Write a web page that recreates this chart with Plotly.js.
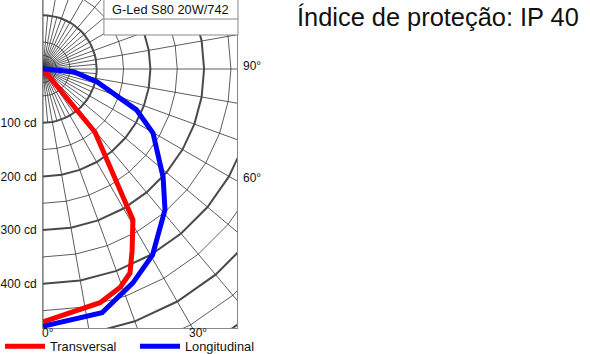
<!DOCTYPE html>
<html><head><meta charset="utf-8">
<script src="https://cdn.plot.ly/plotly-3.0.1.min.js"></script>
<style>html,body{margin:0;padding:0;background:#fff}</style>
</head><body><div id="chart" style="width:590px;height:354px"></div>
<script>
// Luminous intensity curves (angle from nadir in degrees, intensity in cd)
const transversalAngles = [0, 13.7, 19.5, 23.1, 26.2, 30.8, 39.5, 90];
const transversalCd     = [471, 448, 431, 413, 376, 327, 152, 0];
const longitudinalAngles = [0, 13.6, 22.8, 30.5, 40.9, 48, 59.8, 66.4, 76.7, 84.9, 90];
const longitudinalCd     = [479, 467, 432, 402, 347, 301, 237, 190, 103, 57, 0];
// Grid and labels
const ringValues = [25, 50, 100, 150, 200, 250, 300, 350, 400, 450, 500, 550, 600, 650];
const ringLabels = [100, 200, 300, 400];
const angleLabels = [0, 30, 60, 90];
const productName = 'G-Led S80 20W/742';
const protectionText = 'Índice de proteção: IP 40';
const seriesNames = ['Transversal', 'Longitudinal'];

const FONT = 'Liberation Sans, Arial, sans-serif';
const X_MAX = 361.3, Y_MIN = -482.3, Y_MAX = 128.5;
const rad = d => d * Math.PI / 180;
const px = (r, a) => r * Math.sin(rad(a));
const py = (r, a) => -r * Math.cos(rad(a));

function ring(r) {
  const step = r <= 100 ? 5 : 10;
  const xs = [], ys = [];
  for (let a = 0; a <= 180; a += step) { xs.push(px(r, a)); ys.push(py(r, a)); }
  return [xs, ys];
}
const thin = {x: [], y: []}, thick = {x: [], y: []};
ringValues.forEach(r => {
  const [xs, ys] = ring(r);
  const t = (r % 100 === 0) ? thick : thin;
  t.x.push(...xs, null); t.y.push(...ys, null);
});
for (let a = 0; a <= 180; a += 5) {
  const len = (a % 10 === 0) ? 700 : 100;
  thin.x.push(0, px(len, a), null); thin.y.push(0, py(len, a), null);
}

const traces = [
  {x: thin.x, y: thin.y, mode: 'lines', line: {color: '#333', width: 0.8}, hoverinfo: 'skip', showlegend: false},
  {x: thick.x, y: thick.y, mode: 'lines', line: {color: '#4a4a4a', width: 2}, hoverinfo: 'skip', showlegend: false},
  {x: transversalCd.map((v, i) => px(v, transversalAngles[i])), y: transversalCd.map((v, i) => py(v, transversalAngles[i])),
   mode: 'lines', name: seriesNames[0], legend: 'legend', line: {color: '#ff0000', width: 5}},
  {x: longitudinalCd.map((v, i) => px(v, longitudinalAngles[i])), y: longitudinalCd.map((v, i) => py(v, longitudinalAngles[i])),
   mode: 'lines', name: seriesNames[1], legend: 'legend2', line: {color: '#0000ff', width: 5}}
];

const annotations = angleLabels.map(a => {
  if (a < 45) {
    const r = -Y_MIN / Math.cos(rad(a));
    return {x: px(r, a), y: Y_MIN, xref: 'x', yref: 'y', text: a + '°', showarrow: false,
            xanchor: 'center', yanchor: 'middle', xshift: 5, yshift: -5, font: {family: FONT, size: 12, color: '#111'}};
  }
  const y = -X_MAX / Math.tan(rad(a));
  return {x: X_MAX, y: Math.abs(y) < 1e-6 ? 0 : y, xref: 'x', yref: 'y', text: a + '°', showarrow: false,
          xanchor: 'left', yanchor: 'middle', xshift: 4, yshift: 3, font: {family: FONT, size: 12, color: '#111'}};
});
annotations.push({x: 0.5 * (0.314 + 1.005), y: 0.971, xref: 'paper', yref: 'paper', text: productName, showarrow: false,
  xanchor: 'center', yanchor: 'middle', font: {family: FONT, size: 12.8, color: '#111'}});

const legendBase = {orientation: 'v', xref: 'container', yref: 'container', y: 7.5 / 354, xanchor: 'left', yanchor: 'middle',
  font: {family: FONT, size: 12.8, color: '#111'}, itemwidth: 40, bgcolor: 'rgba(0,0,0,0)', borderwidth: 0};

const layout = {
  width: 590, height: 354,
  margin: {l: 43, r: 353, t: 0, b: 26, autoexpand: false},
  paper_bgcolor: '#fff', plot_bgcolor: '#fff',
  font: {family: FONT, color: '#111'},
  title: {text: protectionText, xref: 'container', yref: 'container', x: 297 / 590, xanchor: 'left',
          y: 1 - 8 / 354, yanchor: 'top', font: {family: FONT, size: 25.4, color: '#111'}},
  xaxis: {range: [0, X_MAX], showgrid: false, zeroline: false, showticklabels: false, ticks: '',
          showline: true, mirror: true, linecolor: '#888', linewidth: 1, fixedrange: true, automargin: false},
  yaxis: {range: [Y_MIN, Y_MAX], showgrid: false, zeroline: false, ticks: '',
          tickvals: ringLabels.map(v => -v), ticktext: ringLabels.map(v => v + ' cd'),
          tickfont: {family: FONT, size: 12, color: '#111'}, ticklabelstandoff: 3,
          showline: true, mirror: true, linecolor: '#888', linewidth: 1, fixedrange: true, automargin: false},
  shapes: [
    {type: 'rect', xref: 'paper', yref: 'paper', x0: 0.314, x1: 1.005, y0: 0.8933, y1: 1.01,
     fillcolor: '#fff', line: {color: '#888', width: 1}, layer: 'above'},
    {type: 'line', xref: 'paper', yref: 'paper', x0: 0.314, x1: 1.005, y0: 0.942, y1: 0.942,
     line: {color: '#888', width: 1}, layer: 'above'}
  ],
  annotations: annotations,
  showlegend: true,
  legend: Object.assign({}, legendBase, {x: 0}),
  legend2: Object.assign({}, legendBase, {x: 135 / 590})
};

Plotly.newPlot('chart', traces, layout, {displayModeBar: false, staticPlot: true});
</script></body></html>
